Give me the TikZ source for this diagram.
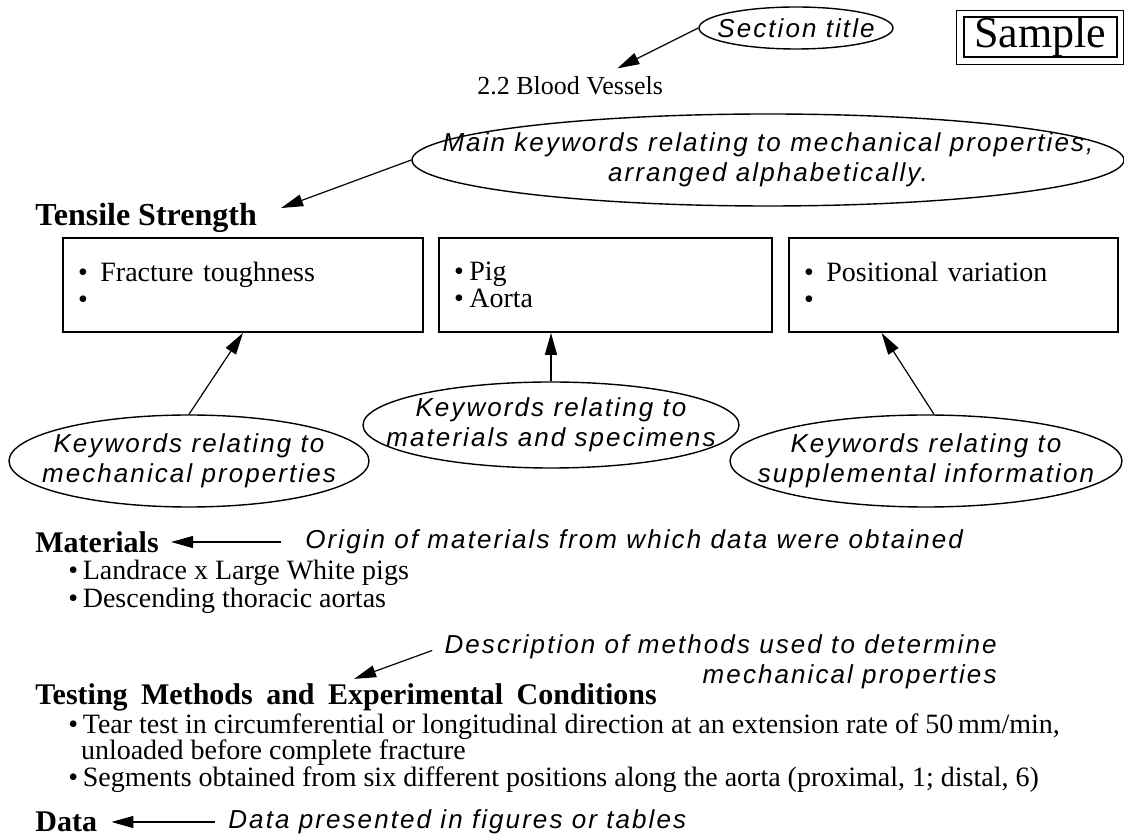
\documentclass[tikz,border=0pt]{standalone}
\usepackage{fontspec}
\setmainfont{Liberation Serif}
\newfontfamily\notefont{Liberation Sans}[LetterSpace=8]
\usetikzlibrary{shapes.geometric,arrows.meta}

\begin{document}
\begin{tikzpicture}[
        x=0.5pt, y=-0.5pt,
        every node/.style={inner sep=0pt},
        hand/.style={font=\notefont\itshape\fontsize{13}{15}\selectfont},
        bubble/.style={ellipse, draw, line width=0.7pt},
        inbubble/.style={hand, align=center},
        remark/.style={hand, anchor=west, align=right},
        heading/.style={anchor=west, font=\bfseries\fontsize{15}{18}\selectfont},
        item/.style={anchor=west, align=left, font=\fontsize{14}{12.5}\selectfont},
        kwbox/.style={draw, line width=0.9pt, minimum height=47pt, inner xsep=7.5pt,
            align=left, font=\fontsize{14}{13.5}\selectfont},
        pointer/.style={-{Triangle[length=11pt,width=6pt]}, line width=0.6pt}
    ]
    \useasboundingbox (0,0) rectangle (1124,838);

    % Kopf
    \node[bubble, minimum width=97pt, minimum height=21pt] (secttl) at (796,28) {};
    \node[inbubble] (secttltxt) at (secttl) {Section title};
    \node[anchor=west, font=\fontsize{13}{15}\selectfont] (bv) at (477,86) {2.2 Blood Vessels};
    \node[draw, line width=1pt, minimum width=76.5pt, minimum height=19.5pt,
          font=\fontsize{22}{24}\selectfont] (sample) at (1040,37) {Sample};
    \draw[line width=0.4pt] ([shift={(-3pt,3pt)}]sample.north west) rectangle ([shift={(3pt,-3pt)}]sample.south east);

    % Schlagworte
    \node[bubble, minimum width=356pt, minimum height=46pt] (kwmain) at (768,160) {};
    \node[inbubble] (kwmaintxt) at (kwmain) {Main keywords relating to mechanical properties,\\arranged alphabetically.};
    \node[heading, font=\bfseries\fontsize{16}{18}\selectfont] (tensile) at (35,218) {Tensile Strength};

    \node[kwbox, text width=165pt]   (box1) at (243,285)   {\textbullet\hspace{0.45em}Fracture toughness\\\textbullet};
    \node[kwbox, text width=151.5pt] (box2) at (605.5,285) {\textbullet\hspace{0.2em}Pig\\\textbullet\hspace{0.2em}Aorta};
    \node[kwbox, text width=149.5pt] (box3) at (953.5,285) {\textbullet\hspace{0.45em}Positional variation\\\textbullet};

    \node[bubble, minimum width=180pt, minimum height=46pt] (kwmech) at (189,461) {};
    \node[inbubble] (kwmechtxt) at (kwmech) {Keywords relating to\\mechanical properties};
    \node[bubble, minimum width=188pt, minimum height=43pt] (kwmat) at (551,425) {};
    \node[inbubble] (kwmattxt) at (kwmat) {Keywords relating to\\materials and specimens};
    \node[bubble, minimum width=196pt, minimum height=46pt] (kwsupp) at (926,461) {};
    \node[inbubble] (kwsupptxt) at (kwsupp) {Keywords relating to\\supplemental information};

    % Abschnitte
    \node[heading] (materials) at (35,542) {Materials};
    \node[remark] (origin) at (305,542) {Origin of materials from which data were obtained};
    \node[item] (matlist) at (68,587) {\textbullet\,Landrace x Large White pigs\\\textbullet\,Descending thoracic aortas};

    \node[remark, anchor=east] (descr) at (997,662)
        {Description of methods used to determine\\mechanical properties};
    \node[heading] (testing) at (35,697)
        {Testing\hspace{0.45em}Methods\hspace{0.45em}and\hspace{0.45em}Experimental\hspace{0.45em}Conditions};
    \node[item, font=\fontsize{14}{13.3}\selectfont] (testlist) at (68,753)
        {\textbullet\,Tear test in circumferential or longitudinal direction at an extension rate of 50\,mm/min,\\
         \hspace*{0.45em}unloaded before complete fracture\\
         \textbullet\,Segments obtained from six different positions along the aorta (proximal, 1; distal, 6)};

    \node[heading] (data) at (35,822) {Data};
    \node[remark] (datanote) at (228,822) {Data presented in figures or tables};

    % Pfeile
    \draw[pointer] (secttl.west) -- ([xshift=-23pt,yshift=4pt]bv.north east);
    \draw[pointer] (kwmain.west) -- ([xshift=12pt,yshift=5pt]tensile.east);
    \draw[pointer] (kwmech.north) -- (box1.south);
    \draw[pointer] (kwmat.north) -- (kwmat.north |- box2.south);
    \draw[pointer] ([xshift=4pt]kwsupp.north) -- ([xshift=-36pt]box3.south);
    \draw[pointer, shorten <=12pt, shorten >=6pt] (origin.west |- materials.east) -- (materials.east);
    \draw[pointer] ([xshift=-6pt,yshift=-8pt]descr.north west) -- ([xshift=4pt,yshift=2pt]testing.north);
    \draw[pointer, shorten <=6.5pt, shorten >=7pt] (datanote.west |- data.east) -- (data.east);

\end{tikzpicture}
\end{document}
